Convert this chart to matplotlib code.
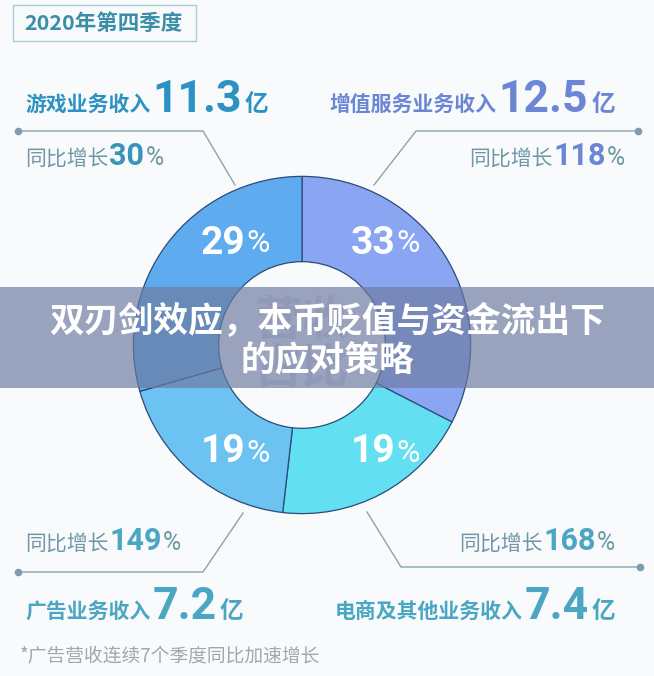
import matplotlib
matplotlib.use("Agg")
import matplotlib.pyplot as plt
from matplotlib.patches import Rectangle

plt.rcParams['font.family'] = ['Noto Sans CJK SC', 'DejaVu Sans']

# data
segments = ['增值服务业务收入', '电商及其他业务收入', '广告业务收入', '游戏业务收入']
revenue = [12.5, 7.4, 7.2, 11.3]          # 亿
growth = [118, 168, 149, 30]              # 同比增长 %
seg_colors = ['#8aa6f2', '#62e0f1', '#6cc2f1', '#5eacef']
title = '2020年第四季度'
banner = '双刃剑效应，本币贬值与资金流出下\n的应对策略'
footnote = '*广告营收连续7个季度同比加速增长'

W, H = 654, 676
fig = plt.figure(figsize=(W / 100, H / 100), dpi=100)
fig.patch.set_facecolor('#f8fafb')

# background axes in pixel units (x display == x data)
bg = fig.add_axes([0, 0, 1, 1])
bg.set_xlim(0, W)
bg.set_ylim(H, 0)
bg.axis('off')

# donut
cx, cy, R, r_in = 302, 345, 172, 85
pie_ax = fig.add_axes([(cx - R) / W, (H - cy - R) / H, 2 * R / W, 2 * R / H])
wedges, _ = pie_ax.pie(revenue, colors=seg_colors, startangle=90, counterclock=False,
                       radius=1, wedgeprops=dict(width=1 - r_in / R, edgecolor='#2c4a78', linewidth=0.9))
pie_ax.set_xlim(-1.02, 1.02)
pie_ax.set_ylim(-1.02, 1.02)
pie_ax.axis('off')

# overlay axes for labels on the ring and the banner
top = fig.add_axes([0, 0, 1, 1])
top.set_xlim(0, W)
top.set_ylim(H, 0)
top.axis('off')
top.patch.set_alpha(0)

num_font = ['Roboto', 'DejaVu Sans']
total = sum(revenue)
pct_pos = [(382, 243), (382, 452), (232, 452), (232, 243)]
for v, (px, py) in zip(revenue, pct_pos):
    top.text(px + 13, py, f'{v / total * 100:.0f}', fontsize=28, fontweight='bold', color='white',
             ha='right', va='center', family=num_font, zorder=2)
    top.text(px + 14, py + 1, '%', fontsize=23, color='white', ha='left', va='center',
             family=num_font, zorder=2)

# title box
bg.add_patch(Rectangle((13, 5), 183, 36, facecolor='none', edgecolor='#a9cdd6', linewidth=1))
bg.text(24, 23, title, fontsize=15.5, fontweight='bold', color='#3b8ea8', va='center')

lab_colors = ['#6a86d4', '#4aa6c2', '#4aa6c2', '#2c92c3']


def revenue_label(x, y, name, val, col, align):
    rend = fig.canvas.get_renderer()
    if align == 'left':
        t1 = bg.text(x, y, name, fontsize=15, fontweight='bold', color=col, va='baseline', ha='left')
        bb = t1.get_window_extent(rend)
        t2 = bg.text(bb.x1 + 2, y + 1, f'{val}', fontsize=32, fontweight='bold', color=col,
                     va='baseline', ha='left', family=num_font)
        bb2 = t2.get_window_extent(rend)
        bg.text(bb2.x1 + 3, y, '亿', fontsize=17, fontweight='bold', color=col, va='baseline', ha='left')
    else:
        t3 = bg.text(x, y, '亿', fontsize=17, fontweight='bold', color=col, va='baseline', ha='right')
        bb = t3.get_window_extent(rend)
        t2 = bg.text(bb.x0 - 3, y + 1, f'{val}', fontsize=32, fontweight='bold', color=col,
                     va='baseline', ha='right', family=num_font)
        bb2 = t2.get_window_extent(rend)
        bg.text(bb2.x0 - 2, y, name, fontsize=15, fontweight='bold', color=col, va='baseline', ha='right')


def growth_label(x, y, val, align, numc):
    grey = '#6e98a6'
    rend = fig.canvas.get_renderer()
    if align == 'left':
        t1 = bg.text(x, y, '同比增长', fontsize=15, color=grey, va='baseline', ha='left')
        bb = t1.get_window_extent(rend)
        t2 = bg.text(bb.x1 + 1, y, f'{val}', fontsize=22, fontweight='bold', color=numc,
                     va='baseline', ha='left', family=num_font)
        bb2 = t2.get_window_extent(rend)
        bg.text(bb2.x1 + 1, y, '%', fontsize=18, color=grey, va='baseline', ha='left', family=num_font)
    else:
        t3 = bg.text(x, y, '%', fontsize=18, color=grey, va='baseline', ha='right', family=num_font)
        bb = t3.get_window_extent(rend)
        t2 = bg.text(bb.x0 - 1, y, f'{val}', fontsize=22, fontweight='bold', color=numc,
                     va='baseline', ha='right', family=num_font)
        bb2 = t2.get_window_extent(rend)
        bg.text(bb2.x0 - 1, y, '同比增长', fontsize=15, color=grey, va='baseline', ha='right')


fig.canvas.draw()
revenue_label(25, 111, segments[3], revenue[3], lab_colors[3], 'left')
revenue_label(615, 111, segments[0], revenue[0], lab_colors[0], 'right')
revenue_label(25, 618, segments[2], revenue[2], lab_colors[2], 'left')
revenue_label(615, 618, segments[1], revenue[1], lab_colors[1], 'right')

growth_label(25, 165, growth[3], 'left', '#3a93b8')
growth_label(625, 165, growth[0], 'right', '#6a86d4')
growth_label(25, 550, growth[2], 'left', '#4aa6c2')
growth_label(615, 550, growth[1], 'right', '#4aa6c2')

# leader lines
lc = '#8aa3b0'
leaders = [
    ([18, 203, 235], [131, 131, 185]),
    ([638, 416, 374], [131, 131, 185]),
    ([18, 203, 243], [572, 572, 513]),
    ([640, 401, 367], [567, 567, 512]),
]
for xs, ys in leaders:
    bg.plot(xs, ys, color=lc, linewidth=1, zorder=1)
    bg.plot(xs[0], ys[0], 'o', color='#7f9cae', markersize=4.5, zorder=1)

bg.text(20, 656, footnote, fontsize=13.5, color='#a3a8ab', va='center')

# faint watermark in the hole, then the banner on top
top.text(cx, 345, '营收\n占比', fontsize=34, fontweight='bold', color='#7f95c4', alpha=0.25,
         ha='center', va='center', linespacing=1.0, zorder=1)
top.add_patch(Rectangle((0, 287), W, 101, facecolor='#6e7aa0', alpha=0.68, edgecolor='none', zorder=3))
top.text(W / 2, 341, banner, fontsize=25, fontweight='bold', color='white', ha='center', va='center',
         linespacing=1.18, zorder=4)

fig.savefig('out.png', dpi=100, facecolor=fig.get_facecolor())
